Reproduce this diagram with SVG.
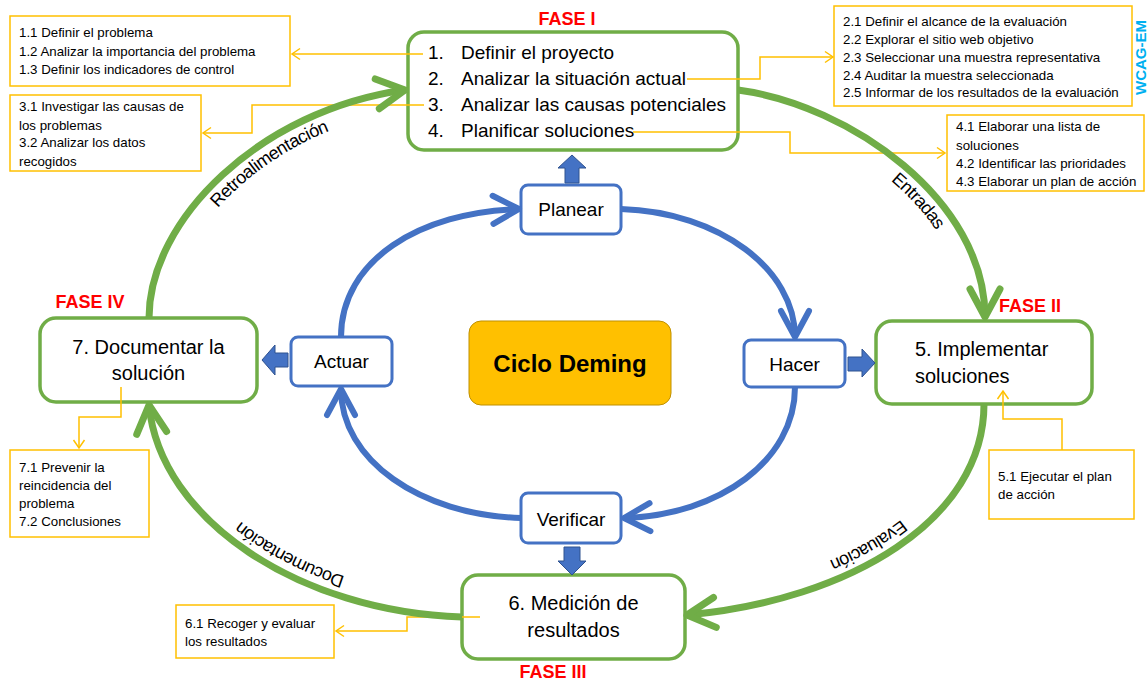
<svg xmlns="http://www.w3.org/2000/svg" xmlns:xlink="http://www.w3.org/1999/xlink" width="1147" height="681" viewBox="0 0 1147 681">
<style>
text{font-family:"Liberation Sans",Arial,sans-serif;fill:#000}
.gbox{fill:#fff;stroke:#70AD47;stroke-width:3.5}
.bbox{fill:#fff;stroke:#4472C4;stroke-width:3}
.ybox{fill:#fff;stroke:#FFC000;stroke-width:1.5}
.big{font-size:19px}
.mid{font-size:20px}
.sm{font-size:13.3px}
.lbl{font-size:18px}
.fase{font-size:18px;font-weight:bold;fill:#FF0000}
.yl{fill:none;stroke:#FFC000;stroke-width:1.5;marker-end:url(#ya)}
.ga{fill:none;stroke:#70AD47;stroke-width:7;marker-end:url(#ga)}
.ba{fill:none;stroke:#4472C4;stroke-width:6;marker-end:url(#ba)}
.blk{fill:#4472C4;stroke:#2F528F;stroke-width:1}
</style>
<defs>
<marker id="ya" markerUnits="userSpaceOnUse" orient="auto" overflow="visible" markerWidth="1" markerHeight="1" refX="0" refY="0">
<path d="M-8,-5.5 L0,0 L-8,5.5" fill="none" stroke="#FFC000" stroke-width="1.5"/>
</marker>
<marker id="ga" markerUnits="userSpaceOnUse" orient="auto" overflow="visible" markerWidth="1" markerHeight="1" refX="0" refY="0">
<path d="M-28,-15 L0,0 L-28,15" fill="none" stroke="#70AD47" stroke-width="7" stroke-linecap="round" stroke-linejoin="round"/>
</marker>
<marker id="ba" markerUnits="userSpaceOnUse" orient="auto" overflow="visible" markerWidth="1" markerHeight="1" refX="0" refY="0">
<path d="M-26,-14 L0,0 L-26,14" fill="none" stroke="#4472C4" stroke-width="6" stroke-linecap="round" stroke-linejoin="round"/>
</marker>
</defs>
<rect width="1147" height="681" fill="#fff"/>

<g id="fase1-box">
<rect class="gbox" x="408" y="32" width="330" height="118" rx="16"/>
<text class="big" x="428" y="59">1.</text><text class="big" x="461" y="59">Definir el proyecto</text>
<text class="big" x="428" y="85">2.</text><text class="big" x="461" y="85">Analizar la situación actual</text>
<text class="big" x="428" y="111">3.</text><text class="big" x="461" y="111">Analizar las causas potenciales</text>
<text class="big" x="428" y="137">4.</text><text class="big" x="461" y="137">Planificar soluciones</text>
</g>
<g id="fase2-box">
<rect class="gbox" x="876" y="321" width="216" height="83" rx="16"/>
<text class="mid" x="915" y="356">5. Implementar</text>
<text class="mid" x="915" y="383">soluciones</text>
</g>
<g id="fase3-box">
<rect class="gbox" x="462" y="575" width="223" height="84" rx="16"/>
<text class="mid" x="573.5" y="610" text-anchor="middle">6. Medición de</text>
<text class="mid" x="573.5" y="637" text-anchor="middle">resultados</text>
</g>
<g id="fase4-box">
<rect class="gbox" x="40" y="318" width="217" height="84" rx="16"/>
<text class="mid" x="148.5" y="354" text-anchor="middle">7. Documentar la</text>
<text class="mid" x="148.5" y="380" text-anchor="middle">solución</text>
</g>

<g id="planear">
<rect class="bbox" x="521" y="185" width="100" height="49" rx="7"/>
<text class="big" x="571" y="216" text-anchor="middle">Planear</text>
</g>
<g id="hacer">
<rect class="bbox" x="744" y="340" width="101" height="47" rx="7"/>
<text class="big" x="794.5" y="371" text-anchor="middle">Hacer</text>
</g>
<g id="verificar">
<rect class="bbox" x="521" y="493" width="100" height="50" rx="7"/>
<text class="big" x="571" y="526" text-anchor="middle">Verificar</text>
</g>
<g id="actuar">
<rect class="bbox" x="291" y="337" width="101" height="49" rx="7"/>
<text class="big" x="341.5" y="368" text-anchor="middle">Actuar</text>
</g>
<g id="ciclo">
<rect x="469" y="321" width="202" height="84" rx="12" fill="#FFC000" stroke="#BF9000" stroke-width="1"/>
<text x="570" y="372" text-anchor="middle" style="font-size:24px;font-weight:bold">Ciclo Deming</text>
</g>

<g id="sub1">
<rect class="ybox" x="10" y="16" width="280" height="70"/>
<text class="sm" x="19" y="37">1.1 Definir el problema</text>
<text class="sm" x="19" y="55.5">1.2 Analizar la importancia del problema</text>
<text class="sm" x="19" y="74">1.3 Definir los indicadores de control</text>
</g>
<g id="sub3">
<rect class="ybox" x="10" y="95" width="191" height="76"/>
<text class="sm" x="19" y="111">3.1 Investigar las causas de</text>
<text class="sm" x="19" y="129.5">los problemas</text>
<text class="sm" x="19" y="147">3.2 Analizar los datos</text>
<text class="sm" x="19" y="166">recogidos</text>
</g>
<g id="sub2">
<rect class="ybox" x="834" y="6" width="298" height="100"/>
<text class="sm" x="843" y="26">2.1 Definir el alcance de la evaluación</text>
<text class="sm" x="843" y="44">2.2 Explorar el sitio web objetivo</text>
<text class="sm" x="843" y="62">2.3 Seleccionar una muestra representativa</text>
<text class="sm" x="843" y="79.5">2.4 Auditar la muestra seleccionada</text>
<text class="sm" x="843" y="97">2.5 Informar de los resultados de la evaluación</text>
</g>
<g id="sub4">
<rect class="ybox" x="947" y="115" width="197" height="76"/>
<text class="sm" x="956" y="131">4.1 Elaborar una lista de</text>
<text class="sm" x="956" y="149.5">soluciones</text>
<text class="sm" x="956" y="168">4.2 Identificar las prioridades</text>
<text class="sm" x="956" y="185.5">4.3 Elaborar un plan de acción</text>
</g>
<g id="sub5">
<rect class="ybox" x="989" y="450" width="145" height="69"/>
<text class="sm" x="998" y="481">5.1 Ejecutar el plan</text>
<text class="sm" x="998" y="498.5">de acción</text>
</g>
<g id="sub6">
<rect class="ybox" x="176" y="605" width="158" height="53"/>
<text class="sm" x="185" y="627.5">6.1 Recoger y evaluar</text>
<text class="sm" x="185" y="646">los resultados</text>
</g>
<g id="sub7">
<rect class="ybox" x="10" y="450" width="139" height="87"/>
<text class="sm" x="19" y="472">7.1 Prevenir la</text>
<text class="sm" x="19" y="489.5">reincidencia del</text>
<text class="sm" x="19" y="507.5">problema</text>
<text class="sm" x="19" y="525.5">7.2 Conclusiones</text>
</g>

<g id="phase-labels">
<text class="fase" x="567" y="25" text-anchor="middle">FASE I</text>
<text class="fase" x="1030" y="312" text-anchor="middle">FASE II</text>
<text class="fase" x="553" y="678" text-anchor="middle">FASE III</text>
<text class="fase" x="90" y="308" text-anchor="middle">FASE IV</text>
<text transform="translate(1146,95) rotate(-90)" style="font-size:15px;font-weight:bold;fill:#00B0F0">WCAG-EM</text>
</g>

<g id="connectors">
<path class="yl" d="M423,54 H292"/>
<path class="yl" d="M424,105 H252 V133 H203"/>
<path class="yl" d="M687,79 H760 V57 H833"/>
<path class="yl" d="M633,132 H790 V153 H945"/>
<path class="yl" d="M1062,450 V419 H1003 V391"/>
<path class="yl" d="M121,387 V417 H79 V448"/>
<path class="yl" d="M480,617 H407 V631 H336"/>

<path id="aRetro" class="ga" d="M149,318 C149,220 260,110 405,90"/>
<path id="aEntr" class="ga" d="M738,90 C850,105 985,200 985,317"/>
<path id="aEval" class="ga" d="M984,404 C984,520 850,600 687,615"/>
<path id="aDoc" class="ga" d="M462,617 C300,612 160,520 149,405"/>

<path class="ba" d="M621,209 C720,212 795,270 795,337"/>
<path class="ba" d="M795,387 C795,460 720,515 624,518"/>
<path class="ba" d="M521,518 C420,515 341,460 341,389"/>
<path class="ba" d="M341,337 C341,260 420,212 519,209"/>

<polygon class="blk" points="565,183 565,168 558,168 572,155 586,168 579,168 579,183"/>
<polygon class="blk" points="848,357 862,357 862,349 875,363 862,377 862,371 848,371"/>
<polygon class="blk" points="288,353 275,353 275,345 262,360 275,375 275,367 288,367"/>
<polygon class="blk" points="564,547 580,547 580,561 586,561 572,575 558,561 564,561"/>

<text class="lbl" dy="20"><textPath href="#aRetro" xlink:href="#aRetro" startOffset="57%" text-anchor="middle">Retroalimentación</textPath></text>
<text class="lbl" dy="20"><textPath href="#aEntr" xlink:href="#aEntr" startOffset="61%" text-anchor="middle">Entradas</textPath></text>
<text class="lbl" dy="20"><textPath href="#aEval" xlink:href="#aEval" startOffset="50%" text-anchor="middle">Evaluación</textPath></text>
<text class="lbl" dy="20"><textPath href="#aDoc" xlink:href="#aDoc" startOffset="46%" text-anchor="middle">Documentación</textPath></text>
</g>
</svg>
